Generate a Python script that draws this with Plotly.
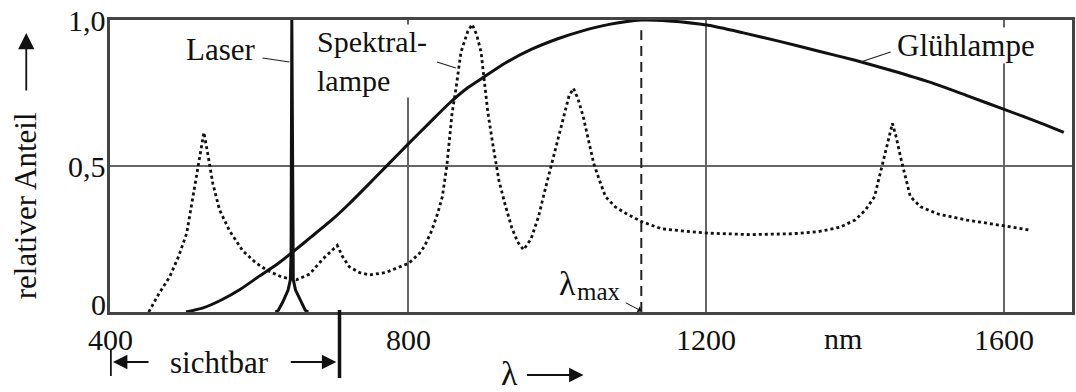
import plotly.graph_objects as go

# ---------------- data ----------------
# Glühlampe (solid)
gl_wl = [502, 525, 550, 575, 600, 625, 645, 670, 698, 720, 745, 770, 800, 828, 855,
         880, 899, 930, 966, 1000, 1033, 1070, 1113, 1150, 1203, 1250, 1300, 1350, 1400,
         1450, 1500, 1550, 1600, 1650, 1680]
gl_val = [0.0, 0.014, 0.042, 0.078, 0.122, 0.165, 0.205, 0.257, 0.316, 0.368, 0.432,
          0.497, 0.575, 0.646, 0.714, 0.768, 0.80, 0.852, 0.90, 0.935, 0.962, 0.985, 1.0,
          0.997, 0.982, 0.956, 0.926, 0.894, 0.862, 0.826, 0.787, 0.741, 0.694, 0.646,
          0.615]

# Spektrallampe (dotted)
sp_wl = [452, 465, 480, 492, 503, 514, 520, 526, 532, 538, 547, 560, 578, 595, 610, 630,
         650, 668, 685, 697, 705, 712, 721, 735, 748, 770, 801, 815, 822, 832, 840, 846,
         852, 859, 864, 871, 880, 886, 892, 898, 907, 914, 922, 930, 939, 947, 955, 965,
         975, 984, 993, 1001, 1009, 1016, 1022, 1028, 1035, 1042, 1049, 1057, 1065, 1078,
         1092, 1113, 1140, 1167, 1203, 1260, 1315, 1350, 1379, 1400, 1414, 1426, 1439,
         1445, 1450, 1455, 1461, 1474, 1488, 1512, 1550, 1600, 1635]
sp_val = [0.0, 0.06, 0.12, 0.19, 0.27, 0.44, 0.53, 0.615, 0.53, 0.44, 0.35, 0.28, 0.21,
          0.17, 0.144, 0.12, 0.11, 0.13, 0.18, 0.21, 0.228, 0.19, 0.155, 0.135, 0.127,
          0.135, 0.167, 0.2, 0.225, 0.28, 0.34, 0.395, 0.50, 0.68, 0.76, 0.89, 0.96,
          0.985, 0.95, 0.89, 0.685, 0.57, 0.45, 0.37, 0.29, 0.24, 0.213, 0.25, 0.326,
          0.42, 0.51, 0.60, 0.68, 0.74, 0.766, 0.73, 0.67, 0.59, 0.51, 0.45, 0.395, 0.36,
          0.338, 0.31, 0.285, 0.278, 0.27, 0.265, 0.268, 0.275, 0.29, 0.315, 0.35, 0.395,
          0.53, 0.60, 0.646, 0.60, 0.53, 0.395, 0.36, 0.335, 0.315, 0.295, 0.28]

# Laser (solid spike)
la_wl = [622, 626, 632, 639, 642, 643, 644, 645, 646, 649, 656, 662, 666]
la_val = [0.0, 0.006, 0.035, 0.075, 0.11, 0.2, 1.0, 0.2, 0.11, 0.075, 0.035, 0.006, 0.0]

# lambda_max marker
lmax_wl = [1113, 1113]
lmax_val = [0.0, 0.965]

# visible range
vis_range = [400, 708]

x_ticks = [400, 800, 1200, 1600]
x_ticktext = ["400", "800", "1200", "1600"]
y_ticks = [0, 0.5, 1.0]
y_ticktext = ["0", "0,5", "1,0"]

# ---------------- figure ----------------
FONT = "'Liberation Serif', 'Times New Roman', 'DejaVu Serif', serif"
FS = 31
TFS = 30
W, H = 1076, 392
ML, MR, MT, MB = 110, 1, 20, 80
XR = [400, 1691]

fig = go.Figure()

fig.add_trace(go.Scatter(x=sp_wl, y=sp_val, mode="lines",
                         line=dict(color="#111", width=2.8, dash="3px,3px"),
                         hoverinfo="skip"))
fig.add_trace(go.Scatter(x=gl_wl, y=gl_val, mode="lines",
                         line=dict(color="#111", width=3, shape="spline", smoothing=0.6),
                         hoverinfo="skip"))
fig.add_trace(go.Scatter(x=la_wl, y=la_val, mode="lines",
                         line=dict(color="#111", width=3),
                         hoverinfo="skip"))
fig.add_trace(go.Scatter(x=lmax_wl, y=lmax_val, mode="lines",
                         line=dict(color="#222", width=2, dash="10px,6px"),
                         hoverinfo="skip"))

pw = W - ML - MR
ph = H - MT - MB


def px2x(px):
    return XR[0] + (px - ML) / pw * (XR[1] - XR[0])


def px2p(px):
    return (px - ML) / pw


def py2p(py):
    return (MT + ph - py) / ph


annotations = []
shapes = []


def label(text, x, y, xanchor="center", size=FS, bg="white", xref="x", align="center"):
    annotations.append(dict(text=text, x=x, y=y, xref=xref, yref="paper",
                            showarrow=False, xanchor=xanchor, yanchor="middle",
                            align=align,
                            font=dict(family=FONT, size=size, color="#111"),
                            bgcolor=bg, borderpad=0))


def arrow(x, y, ax, ay, head=2, width=1.8, size=1.6, xref="x"):
    annotations.append(dict(text="", x=x, y=y, xref=xref, yref="paper",
                            ax=ax, ay=ay, axref="pixel", ayref="pixel",
                            showarrow=True, arrowhead=head, arrowwidth=width,
                            arrowsize=size, arrowcolor="#111"))


def segment(p0, p1, width=1.2, color="#222"):
    shapes.append(dict(type="line", xref="paper", yref="paper",
                       x0=px2p(p0[0]), y0=py2p(p0[1]), x1=px2p(p1[0]), y1=py2p(p1[1]),
                       line=dict(color=color, width=width)))


# tick labels (placed explicitly to match the reference spacing)
for v, t in zip(x_ticks, x_ticktext):
    label(t, v, py2p(339), size=TFS, bg="rgba(0,0,0,0)")
for v, t, py in zip(y_ticks, y_ticktext, [304, 166, 20]):
    label(t, px2p(107), py2p(py), xanchor="right", size=TFS, bg="rgba(0,0,0,0)",
          xref="paper")

# curve labels
label("Laser", px2x(221), py2p(50))
label("Spektral-<br>lampe", px2x(317), py2p(61), xanchor="left", size=30, align="left")
label("Glühlampe", px2x(898), py2p(45), xanchor="left")
segment((263, 58), (290, 62))
segment((438, 62), (457, 68))
segment((893, 52), (863, 62))

# lambda max
label("λ", px2x(569), py2p(283), size=34, bg="rgba(0,0,0,0)")
label("max", px2x(601), py2p(291), size=25, bg="rgba(0,0,0,0)")
arrow(lmax_wl[0], py2p(311), -17, -9, head=1, width=1, size=1.2)

# nm
label("nm", px2x(845), py2p(338), size=TFS, bg="rgba(0,0,0,0)")

# sichtbar
label("sichtbar", px2x(220), py2p(362), bg="rgba(0,0,0,0)")
arrow(px2x(113), py2p(362), 37, 0)
arrow(px2x(337), py2p(362), -47, 0)
shapes.append(dict(type="line", xref="x", yref="paper", x0=vis_range[0], x1=vis_range[0],
                   y0=py2p(350), y1=py2p(376), line=dict(color="#111", width=3.5)))
shapes.append(dict(type="line", xref="x", yref="paper", x0=vis_range[1], x1=vis_range[1],
                   y0=py2p(310), y1=py2p(378), line=dict(color="#111", width=3.5)))

# lambda ->
label("λ", px2x(511), py2p(373), size=34, bg="rgba(0,0,0,0)")
arrow(px2x(585), py2p(375), -58, 0)

# y axis title
annotations.append(dict(text="relativer Anteil", x=px2p(25), y=py2p(206),
                        xref="paper", yref="paper", showarrow=False, textangle=-90,
                        xanchor="center", yanchor="middle",
                        font=dict(family=FONT, size=FS, color="#111")))
arrow(px2p(26), py2p(33), 0, 59, size=1.8, xref="paper")

fig.update_layout(
    width=W, height=H,
    margin=dict(l=ML, r=MR, t=MT, b=MB, pad=0),
    paper_bgcolor="white", plot_bgcolor="white",
    showlegend=False,
    font=dict(family=FONT, size=FS, color="#111"),
    annotations=annotations,
    shapes=shapes,
    xaxis=dict(range=XR, tickvals=x_ticks, ticktext=x_ticktext, showticklabels=False,
               showgrid=True, gridcolor="#666", gridwidth=1.5,
               showline=True, linecolor="#444", linewidth=2.5, mirror=True,
               zeroline=False, ticks=""),
    yaxis=dict(range=[0, 1], tickvals=y_ticks, ticktext=y_ticktext, showticklabels=False,
               showgrid=True, gridcolor="#666", gridwidth=1.5,
               showline=True, linecolor="#444", linewidth=2.5, mirror=True,
               zeroline=False, ticks=""),
)

fig.write_html("out.html")
